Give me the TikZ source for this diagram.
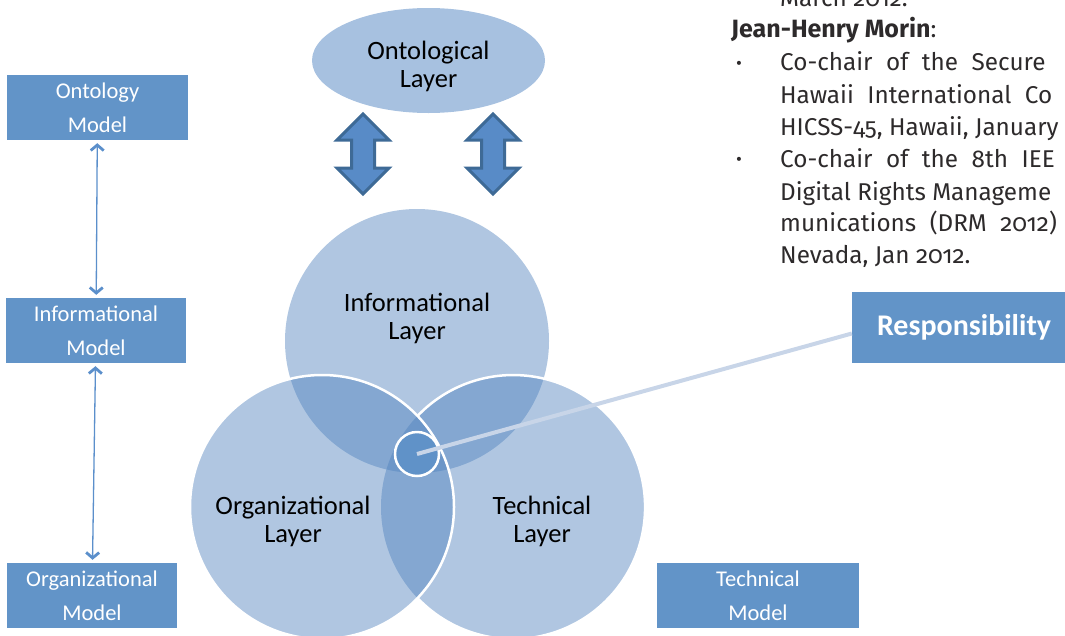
\documentclass[tikz,border=0pt]{standalone}
\usepackage{fontspec}
\setmainfont{Carlito}
\newfontfamily\docfont[Numbers=OldStyle]{Fira Sans}
\usetikzlibrary{arrows.meta,shapes.geometric}
\definecolor{boxblue}{RGB}{98,148,200}
\definecolor{venn}{RGB}{79,129,189}
\definecolor{ellblue}{RGB}{167,193,224}
\definecolor{arrfill}{RGB}{88,139,199}
\definecolor{arrdraw}{RGB}{62,106,150}
\definecolor{thinblue}{RGB}{91,143,203}
\definecolor{corefill}{RGB}{96,146,200}
\definecolor{pointer}{RGB}{200,213,232}
\definecolor{doctextcol}{RGB}{45,42,43}
\begin{document}
\begin{tikzpicture}[x=1pt,y=-1pt,
  modelbox/.style={fill=boxblue, text=white, inner sep=0pt, align=center,
    font=\fontsize{22.5}{34}\selectfont},
  layerlabel/.style={align=center, inner sep=0pt, text=black,
    font=\fontsize{26.5}{28}\selectfont},
  venncircle/.style={circle, inner sep=0pt, minimum size=264pt, fill=venn, fill opacity=0.45},
  blockarrow/.style={fill=arrfill, draw=arrdraw, line width=3pt},
  thinarr/.style={draw=thinblue, line width=1.3pt,
    {Straight Barb[length=5.5pt,width=13pt,line width=2.8pt]}-{Straight Barb[length=5.5pt,width=13pt,line width=2.8pt]},
    shorten <=3pt, shorten >=3pt},
  doctext/.style={anchor=base west, inner sep=0pt, text=doctextcol,
    font=\docfont\fontsize{24.3}{28}\selectfont},
  bulletmark/.style={anchor=base west, inner sep=0pt, text=doctextcol,
    font=\docfont\fontsize{18}{18}\selectfont},
  wide/.style={execute at begin node={\spaceskip=13.5pt\relax}}
]
\useasboundingbox (0,0) rectangle (1065,635);
\clip (0,0) rectangle (1065,635);

% right-hand document text
\node[doctext] (t0) at (780,6) {March 2012.};
\node[doctext] (t1) at (731,37) {{\fontsize{25}{28}\selectfont\bfseries Jean-Henry Morin}:};
\node[bulletmark] (b1) at (736,69) {•};
\node[doctext, wide] (t2) at (780,70.7) {Co-chair of the Secure};
\node[doctext, wide] (t3) at (780,103) {Hawaii International Co};
\node[doctext] (t4) at (780,135) {HICSS-45, Hawaii, January};
\node[bulletmark] (b2) at (736,165) {•};
\node[doctext, wide] (t5) at (780,167) {Co-chair of the 8th IEE};
\node[doctext] (t6) at (780,200) {Digital Rights Manageme};
\node[doctext, wide] (t7) at (780,231) {munications (DRM 2012)};
\node[doctext] (t8) at (780,263) {Nevada, Jan 2012.};

% ontological layer
\node[ellipse, fill=ellblue, minimum width=233pt, minimum height=105pt, inner sep=0pt] (ont) at (428.5,60.5) {};
\node[layerlabel] (ontlabel) at (428.5,66) {Ontological\\Layer};

% block arrows
\coordinate (da1) at (363,154);
\coordinate (da2) at (493,154);
\foreach \c in {da1,da2}
  \draw[blockarrow] (\c) ++(0,-40) -- ++(26,26) -- ++(-14.5,0) -- ++(0,28) -- ++(14.5,0)
    -- ++(-26,26) -- ++(-26,-26) -- ++(14.5,0) -- ++(0,-28) -- ++(-14.5,0) -- cycle;

% Venn circles
\node[venncircle] (infoC) at (417,341) {};
\node[venncircle] (techC) at (513,507) {};
\node[venncircle] (orgC) at (322,507) {};
\draw[white, line width=2.5pt] (417.5,416) arc[start angle=136.4, end angle=-136.4, radius=132pt];
\node[circle, draw=white, line width=2.5pt, minimum size=264pt, inner sep=0pt] (orgO) at (322,507) {};

\node[layerlabel] (infolabel) at (417,318) {Informational\\Layer};
\node[layerlabel] (orglabel) at (293,521) {Organizational\\Layer};
\node[layerlabel] (techlabel) at (542,521) {Technical\\Layer};

% model boxes
\node[modelbox, minimum width=181pt, minimum height=65pt] (ontoM) at (97.5,107.5) {Ontology\\Model};
\node[modelbox, minimum width=180pt, minimum height=65pt] (infoM) at (96,330.5) {Informational\\Model};
\node[modelbox, minimum width=170pt, minimum height=65pt] (orgM) at (92,595.5) {Organizational\\Model};
\node[modelbox, minimum width=202pt, minimum height=65pt] (techM) at (758,595.5) {Technical\\Model};
\node[modelbox, minimum width=224pt, minimum height=71pt, font=\bfseries\fontsize{30}{32}\selectfont] (resp) at (964,327.5) {Responsibility};

% core and pointer
\node[circle, fill=corefill, draw=white, line width=2.5pt, minimum size=44pt, inner sep=0pt] (core) at (417,454) {};
\draw[pointer, line width=4pt] (core.center) -- ([yshift=-6pt]resp.west);

% thin arrows
\draw[thinarr] (ontoM) -- (infoM);
\draw[thinarr] (infoM) -- (orgM);
\end{tikzpicture}
\end{document}
